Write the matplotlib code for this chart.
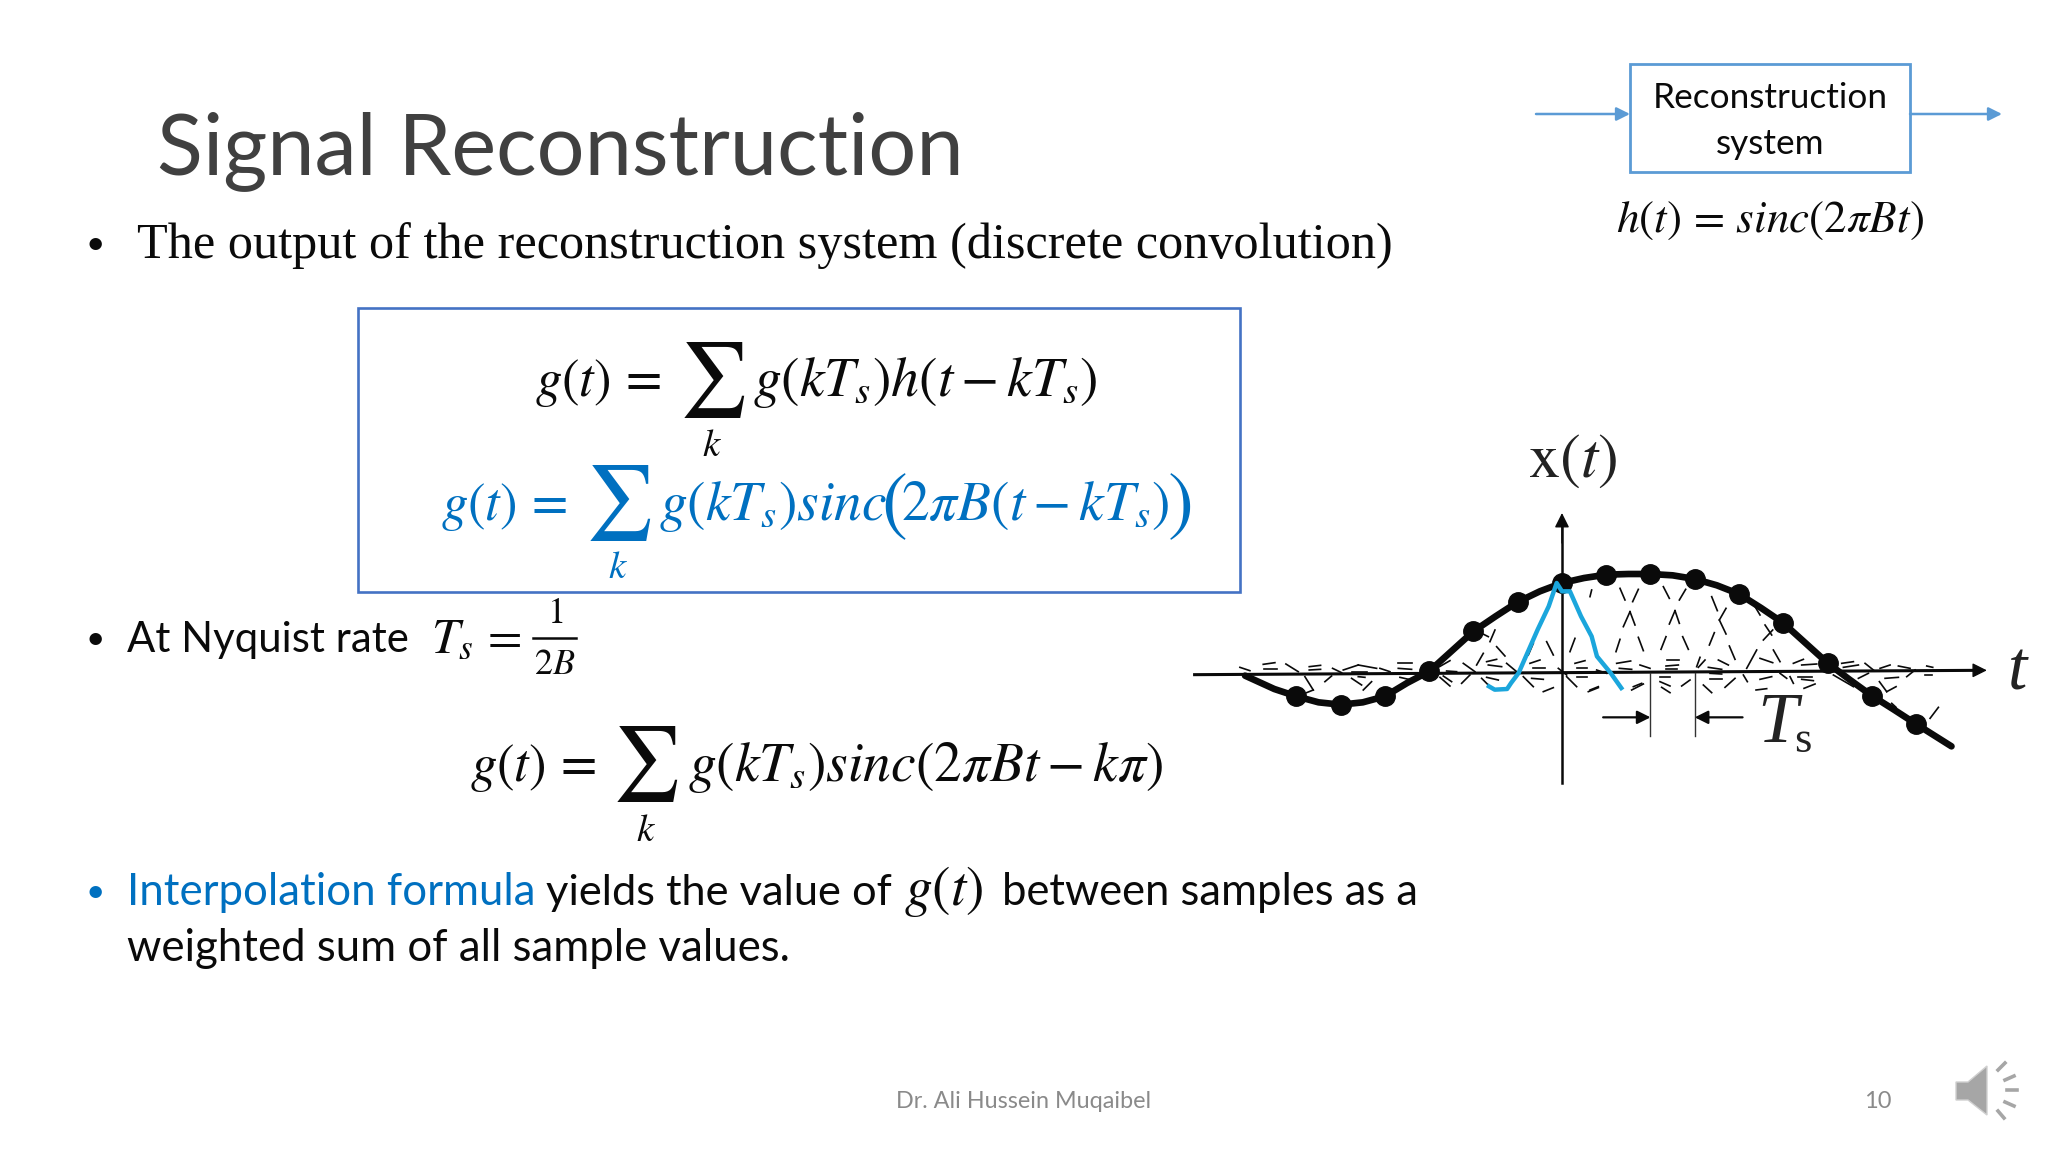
import matplotlib
matplotlib.use('Agg')
import matplotlib.pyplot as plt
from matplotlib.patches import Rectangle, Polygon

plt.rcParams['font.family'] = ['Lato', 'DejaVu Sans']
plt.rcParams['mathtext.fontset'] = 'stix'

BLACK = '#0a0a0a'
BLUE = '#0070c0'
BOX_BLUE = '#4472c4'
DIAG_BLUE = '#5b9bd5'
GREY = '#8a8a8a'

# sample values, t in units of Ts
sample_t = [-6, -5, -4, -3, -2, -1, 0, 1, 2, 3, 4, 5, 6, 7, 8]
sample_x = [-0.70, -0.95, -0.70, 0.05, 1.25, 2.13, 2.70, 2.95, 2.97, 2.82, 2.37, 1.50, 0.30, -0.68, -1.53]

# thick curve, read at half steps too
curve_t = [-7.16, -6.5, -6, -5.5, -5, -4.5, -4, -3.5, -3, -2.5, -2, -1.5, -1, -0.5, 0, 0.5, 1, 1.5, 2,
           2.5, 3, 3.5, 4, 4.5, 5, 5.5, 6, 6.5, 7, 7.5, 8, 8.8]
curve_x = [-0.08, -0.48, -0.70, -0.88, -0.95, -0.88, -0.70, -0.30, 0.05, 0.65, 1.25, 1.70, 2.13, 2.45,
           2.70, 2.85, 2.95, 2.97, 2.97, 2.93, 2.82, 2.63, 2.37, 1.95, 1.50, 0.90, 0.30, -0.20, -0.68,
           -1.10, -1.53, -2.20]

# hand drawn blue pulse at k=0
pulse_t = [-1.65, -1.52, -1.24, -1.15, -0.98, -0.55, -0.3, -0.12, 0, 0.18, 0.43, 0.67, 0.79, 1.10, 1.34]
pulse_x = [-0.40, -0.50, -0.48, -0.30, 0, 1.30, 2.0, 2.70, 2.45, 2.45, 1.70, 1.10, 0.50, 0, -0.45]

dashes_left = [(30, 142, 60, 152), (100, 133, 135, 128), (103, 148, 140, 148), (168, 132, 205, 155),
               (238, 140, 272, 136), (238, 150, 272, 148), (308, 145, 335, 158), (225, 170, 250, 210),
               (250, 210, 230, 218), (285, 185, 305, 168), (340, 150, 385, 135), (385, 135, 440, 145),
               (365, 155, 410, 155), (365, 175, 395, 195), (385, 170, 405, 172), (400, 210, 425, 185),
               (450, 145, 480, 155), (505, 130, 545, 130), (505, 145, 545, 148), (510, 172, 545, 180),
               (620, 145, 660, 122), (650, 153, 680, 155), (630, 172, 660, 198), (640, 168, 665, 185),
               (695, 190, 720, 165), (700, 130, 735, 155), (740, 135, 760, 100), (755, 40, 775, 50),
               (780, 65, 795, 30), (800, 80, 825, 108), (755, 175, 780, 200), (770, 125, 800, 118),
               (775, 135, 815, 140), (770, 172, 805, 180), (830, 130, 860, 155), (880, 170, 910, 200),
               (900, 130, 930, 120), (910, 145, 945, 145), (905, 175, 940, 178), (940, 215, 970, 203),
               (950, 65, 970, 105), (1020, 95, 1035, 55), (985, 145, 1010, 165), (1010, 170, 1040, 200),
               (1035, 130, 1065, 122), (1040, 145, 1070, 145), (1040, 170, 1070, 170), (1075, 215, 1105, 203),
               (1100, 150, 1130, 160), (910, 70, 895, 105)]
dashes_right = [(5, 30, 0, 50), (90, 25, 105, 60), (145, 28, 128, 65), (220, 20, 238, 55), (287, 28, 268, 60),
                (120, 95, 100, 140), (120, 95, 135, 135), (255, 92, 238, 132), (255, 92, 268, 130),
                (90, 178, 78, 215), (145, 172, 160, 212), (228, 170, 213, 208), (278, 170, 295, 208),
                (365, 50, 382, 92), (408, 85, 388, 120), (388, 120, 408, 162), (373, 158, 358, 195),
                (418, 198, 435, 238), (500, 210, 470, 265), (495, 80, 510, 105), (525, 135, 545, 165),
                (548, 150, 520, 180), (550, 210, 570, 245), (510, 235, 548, 248), (610, 250, 640, 238),
                (635, 255, 680, 252), (80, 250, 122, 243), (88, 265, 125, 268), (230, 240, 268, 240),
                (228, 258, 265, 255), (228, 268, 262, 268), (150, 255, 180, 265), (330, 232, 320, 260),
                (345, 240, 325, 262), (385, 240, 415, 255), (355, 262, 395, 268), (360, 280, 395, 282),
                (360, 298, 395, 298), (210, 290, 240, 290), (210, 305, 240, 318), (215, 322, 240, 338),
                (275, 318, 300, 300), (340, 315, 365, 338), (405, 322, 435, 295), (460, 285, 472, 305),
                (510, 298, 545, 290), (498, 330, 530, 326), (570, 280, 590, 295), (600, 290, 610, 310),
                (625, 290, 665, 290), (635, 298, 670, 302), (642, 325, 675, 312), (125, 330, 160, 312),
                (130, 320, 155, 310), (755, 250, 790, 245), (760, 262, 805, 255), (825, 250, 850, 270),
                (870, 265, 900, 255), (925, 258, 960, 265), (805, 295, 835, 280), (885, 295, 925, 292),
                (950, 290, 975, 270), (1010, 258, 1028, 262), (1005, 285, 1025, 285), (868, 305, 890, 335),
                (890, 335, 918, 320), (1020, 415, 1045, 382), (730, 285, 790, 320), (905, 370, 918, 382),
                (0, 330, 25, 320)]

fig = plt.figure(figsize=(20.48, 11.52), dpi=100, facecolor='white')

# page axes in pixels, for the slide text and boxes
page = fig.add_axes([0, 0, 1, 1])
page.set_xlim(0, 2048)
page.set_ylim(1152, 0)
page.axis('off')


def put(x, y, s, size, color=BLACK, ha='left', va='baseline', **kw):
    page.text(x, y, s, fontsize=size, color=color, ha=ha, va=va, **kw)


put(157, 174, 'Signal Reconstruction', 61, color='#404040')

put(95, 254, '•', 24, ha='center')
put(137, 258, 'The output of the reconstruction system (discrete convolution)', 36.2,
    family=['Liberation Serif'])

page.add_patch(Rectangle((358, 308), 882, 284, fill=False, ec=BOX_BLUE, lw=1.9))

put(535, 396, r'$g(t)\,=$', 38)
put(712, 380, r'$\sum$', 54, ha='center', va='center')
put(712, 456, r'$k$', 28, ha='center')
put(753, 396, r'$g(kT_s)h(t-kT_s)$', 40)

put(441, 520, r'$g(t)\,=$', 38, color=BLUE)
put(618, 503, r'$\sum$', 54, color=BLUE, ha='center', va='center')
put(618, 578, r'$k$', 28, color=BLUE, ha='center')
put(659, 520, r'$g(kT_s)sinc$', 40, color=BLUE)
put(881, 526, r'$($', 56, color=BLUE)
put(901, 520, r'$2\pi B(t-kT_s)$', 40, color=BLUE)
put(1167, 526, r'$)$', 56, color=BLUE)

put(95, 649, '•', 24, ha='center')
put(127, 652, 'At Nyquist rate', 30.2)
put(431, 652, r'$T_s\,=$', 36)
put(555, 623, r'$1$', 26, ha='center')
page.plot([533, 576], [638, 638], color=BLACK, lw=1.8)
put(555, 674, r'$2B$', 26, ha='center')

put(470, 781, r'$g(t)\,=$', 38)
put(645, 764, r'$\sum$', 54, ha='center', va='center')
put(646, 841, r'$k$', 28, ha='center')
put(688, 781, r'$g(kT_s)sinc(2\pi Bt-k\pi)$', 40)

put(95, 902, '•', 24, color=BLUE, ha='center')
put(127, 905, 'Interpolation formula', 31.5, color=BLUE)
put(546, 905, 'yields the value of', 31.2)
put(904, 905, r'$g(t)$', 40)
put(1002, 905, 'between samples as a', 31.4)
put(127, 961, 'weighted sum of all sample values.', 31.5)

put(1024, 1108, 'Dr. Ali Hussein Muqaibel', 16.8, color=GREY, ha='center')
put(1878, 1108, '10', 17, color=GREY, ha='center')

# block diagram, top right
page.add_patch(Rectangle((1630, 64), 280, 108, fill=False, ec=DIAG_BLUE, lw=2))
for x0, x1 in [(1536, 1630), (1910, 2002)]:
    page.annotate('', xy=(x1, 114), xytext=(x0, 114),
                  arrowprops=dict(arrowstyle='-|>', color=DIAG_BLUE, lw=1.8, mutation_scale=20,
                                  shrinkA=0, shrinkB=0))
put(1770, 108, 'Reconstruction', 25.3, ha='center')
put(1770, 154, 'system', 25.3, ha='center')
put(1770, 232, r'$h(t)\,=\,sinc(2\pi Bt)$', 32.5, ha='center')

# speaker icon
page.add_patch(Polygon([(1956, 1082), (1968, 1082), (1987, 1066), (1987, 1115), (1968, 1100), (1956, 1100)],
                       fc='#a6a6a6', ec='#d0d0d0', lw=1))
for ray in [[(1998, 1070), (2005, 1063)], [(2005, 1080), (2014, 1076)], [(2007, 1090), (2017, 1090)],
            [(2005, 1102), (2014, 1106)], [(1998, 1111), (2004, 1118)]]:
    page.plot(*zip(*ray), color='#a6a6a6', lw=2.6)

# sketch axes: t in Ts, 44.25 px per Ts; x unit is 33.3 px, zero line at y=673 px
sk = fig.add_axes([1180 / 2048, 1 - 800 / 1152, 860 / 2048, 380 / 1152])
sk.set_xlim(-8.63, 10.8)
sk.set_ylim(-3.81, 7.59)
sk.axis('off')
sk.patch.set_alpha(0)

for x0, y0, x1, y1 in dashes_left:
    sk.plot([(x0 - 996) / 132.75, (x1 - 996) / 132.75], [(159 - y0) / 100, (159 - y1) / 100],
            color=BLACK, lw=1.2)
for x0, y0, x1, y1 in dashes_right:
    sk.plot([(x0 + 84) / 132.75, (x1 + 84) / 132.75], [(279 - y0) / 100, (279 - y1) / 100],
            color=BLACK, lw=1.2)

# axes of the sketch, slightly tilted in the source
sk.plot([-8.3, 9.4], [-0.05, 0.08], color=BLACK, lw=2.2)
sk.annotate('', xy=(9.6, 0.08), xytext=(8.9, 0.08),
            arrowprops=dict(arrowstyle='-|>', color=BLACK, lw=1, mutation_scale=22, shrinkA=0, shrinkB=0))
sk.plot([0, 0], [-3.3, 4.5], color=BLACK, lw=1.8)
sk.annotate('', xy=(0, 4.8), xytext=(0, 3.9),
            arrowprops=dict(arrowstyle='-|>', color=BLACK, lw=1, mutation_scale=22, shrinkA=0, shrinkB=0))

sk.plot(curve_t, curve_x, color=BLACK, lw=4.8, solid_capstyle='round', solid_joinstyle='round')
sk.plot(sample_t, sample_x, 'o', color=BLACK, ms=14, ls='none')
sk.plot(pulse_t, pulse_x, color='#1ba6dc', lw=3.2, solid_joinstyle='round')

# Ts marker
sk.plot([2, 2], [0, -1.9], color='#333333', lw=1)
sk.plot([3, 3], [0, -1.9], color='#333333', lw=1)
sk.annotate('', xy=(2, -1.33), xytext=(0.93, -1.33),
            arrowprops=dict(arrowstyle='-|>', color=BLACK, lw=1.6, mutation_scale=20, shrinkA=0, shrinkB=0))
sk.annotate('', xy=(3, -1.33), xytext=(4.08, -1.33),
            arrowprops=dict(arrowstyle='-|>', color=BLACK, lw=1.6, mutation_scale=20, shrinkA=0, shrinkB=0))

serif = ['Liberation Serif']
put(1528, 477, r'$\mathrm{x}(t)$', 45, color='#222222')
put(2008, 690, 't', 50, color='#222222', family=serif, style='italic')
put(1757, 742, 'T', 52, color='#222222', family=serif, style='italic')
put(1794, 752, 's', 32, color='#222222', family=serif)

fig.savefig('out.png', dpi=100)
